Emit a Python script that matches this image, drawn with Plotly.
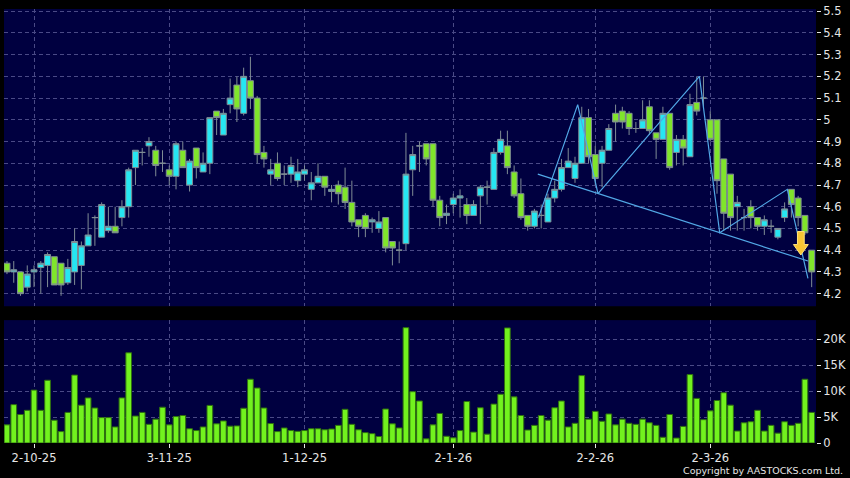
import pandas as pd
import plotly.graph_objects as go

# trading days shown on the chart (HK calendar as drawn)
HOLIDAYS = ["2025-10-01", "2025-10-07", "2025-10-29", "2025-12-25",
            "2026-01-01", "2026-02-17", "2026-02-18", "2026-02-19"]
DATES = [d for d in pd.bdate_range("2025-09-25", "2026-03-23")
         if d.strftime("%Y-%m-%d") not in HOLIDAYS]
TICK_DATES = ["2025-10-02", "2025-11-03", "2025-12-01",
              "2026-01-02", "2026-02-02", "2026-03-02"]

OPEN = [4.34, 4.30, 4.30, 4.23, 4.30, 4.32, 4.33, 4.37, 4.34, 4.25,
        4.30, 4.33, 4.42, 4.55, 4.46, 4.49, 4.51, 4.55, 4.60, 4.78,
        4.85, 4.88, 4.86, 4.80, 4.77, 4.74, 4.86, 4.70, 4.87, 4.76,
        4.80, 5.04, 4.93, 5.07, 5.16, 5.03, 5.18, 5.10, 4.85, 4.75,
        4.80, 4.75, 4.75, 4.72, 4.75, 4.68, 4.71, 4.74, 4.67, 4.70,
        4.69, 4.62, 4.54, 4.56, 4.53, 4.50, 4.55, 4.44, 4.40, 4.43,
        4.77, 4.88, 4.89, 4.89, 4.63, 4.56, 4.61, 4.64, 4.61, 4.56,
        4.65, 4.69, 4.68, 4.85, 4.88, 4.76, 4.66, 4.56, 4.51, 4.56,
        4.53, 4.64, 4.68, 4.78, 4.73, 4.80, 5.01, 4.84, 4.80, 4.86,
        5.03, 5.04, 5.03, 4.96, 4.96, 5.06, 4.94, 4.91, 5.03, 4.85,
        4.91, 4.83, 5.08, 5.10, 5.00, 5.00, 4.82, 4.75, 4.60, 4.55,
        4.60, 4.55, 4.51, 4.51, 4.46, 4.55, 4.68, 4.64, 4.56, 4.40]
HIGH = [4.35, 4.35, 4.30, 4.33, 4.33, 4.35, 4.39, 4.37, 4.34, 4.36,
        4.50, 4.44, 4.57, 4.56, 4.62, 4.60, 4.60, 4.63, 4.78, 4.86,
        4.87, 4.92, 4.88, 4.86, 4.79, 4.90, 4.90, 4.82, 4.87, 4.85,
        5.01, 5.04, 5.05, 5.19, 5.20, 5.24, 5.29, 5.11, 4.88, 4.82,
        4.85, 4.79, 4.83, 4.82, 4.79, 4.76, 4.80, 4.74, 4.70, 4.72,
        4.78, 4.72, 4.54, 4.57, 4.55, 4.58, 4.55, 4.44, 4.44, 4.94,
        4.88, 4.90, 4.89, 4.89, 4.65, 4.61, 4.66, 4.68, 4.64, 4.63,
        4.70, 4.72, 4.87, 4.95, 4.95, 4.79, 4.73, 4.56, 4.59, 4.61,
        4.66, 4.72, 4.82, 4.87, 4.83, 5.06, 5.05, 4.88, 4.88, 4.98,
        5.07, 5.06, 5.04, 4.99, 5.09, 5.09, 4.94, 5.06, 5.03, 4.93,
        4.93, 5.12, 5.20, 5.20, 5.04, 5.00, 4.82, 4.75, 4.65, 4.59,
        4.63, 4.55, 4.56, 4.54, 4.50, 4.62, 4.68, 4.65, 4.56, 4.40]
LOW = [4.29, 4.25, 4.19, 4.21, 4.23, 4.20, 4.23, 4.24, 4.19, 4.24,
       4.24, 4.22, 4.42, 4.42, 4.46, 4.48, 4.48, 4.51, 4.55, 4.70,
       4.79, 4.83, 4.74, 4.76, 4.70, 4.68, 4.78, 4.67, 4.73, 4.76,
       4.75, 4.93, 4.93, 5.03, 4.99, 5.02, 5.05, 4.80, 4.78, 4.70,
       4.72, 4.70, 4.71, 4.69, 4.72, 4.63, 4.71, 4.65, 4.62, 4.61,
       4.59, 4.51, 4.46, 4.46, 4.48, 4.48, 4.39, 4.33, 4.34, 4.40,
       4.65, 4.76, 4.79, 4.60, 4.51, 4.52, 4.57, 4.55, 4.52, 4.56,
       4.52, 4.61, 4.68, 4.84, 4.75, 4.64, 4.54, 4.49, 4.50, 4.50,
       4.53, 4.62, 4.67, 4.78, 4.71, 4.80, 4.80, 4.70, 4.69, 4.86,
       4.90, 4.96, 4.93, 4.94, 4.96, 4.93, 4.82, 4.91, 4.77, 4.79,
       4.79, 4.83, 5.02, 5.05, 4.90, 4.66, 4.49, 4.49, 4.49, 4.49,
       4.50, 4.49, 4.47, 4.48, 4.45, 4.53, 4.55, 4.51, 4.47, 4.23]
CLOSE = [4.30, 4.31, 4.20, 4.29, 4.31, 4.34, 4.38, 4.24, 4.24, 4.32,
         4.44, 4.42, 4.47, 4.55, 4.61, 4.51, 4.48, 4.60, 4.77, 4.86,
         4.85, 4.90, 4.79, 4.80, 4.74, 4.89, 4.78, 4.81, 4.78, 4.80,
         5.01, 5.01, 5.03, 5.10, 5.05, 5.20, 5.10, 4.84, 4.82, 4.77,
         4.73, 4.75, 4.79, 4.76, 4.77, 4.71, 4.74, 4.69, 4.68, 4.66,
         4.62, 4.53, 4.51, 4.50, 4.54, 4.53, 4.41, 4.41, 4.40, 4.75,
         4.84, 4.88, 4.82, 4.63, 4.55, 4.57, 4.64, 4.65, 4.56, 4.61,
         4.69, 4.69, 4.85, 4.91, 4.78, 4.65, 4.55, 4.51, 4.58, 4.56,
         4.64, 4.68, 4.78, 4.81, 4.80, 5.01, 4.83, 4.73, 4.86, 4.96,
         4.99, 4.99, 4.96, 4.96, 5.00, 4.95, 4.91, 5.03, 4.78, 4.91,
         4.87, 5.07, 5.04, 5.10, 4.91, 4.72, 4.57, 4.55, 4.62, 4.55,
         4.55, 4.51, 4.54, 4.51, 4.50, 4.59, 4.61, 4.55, 4.48, 4.30]
VOLUME = [3500, 7400, 5500, 6300, 10200, 6300, 12100, 4400, 2200, 5900,
          13100, 7300, 8700, 6750, 4900, 4900, 3100, 8700, 17400, 5200,
          5900, 3600, 4600, 6900, 3500, 5100, 5300, 2750, 2400, 3100,
          7250, 3700, 4250, 3250, 3300, 6700, 12300, 10600, 6750, 3750,
          2200, 2900, 2400, 2250, 2400, 2750, 2750, 2550, 2700, 3400,
          6500, 3600, 2550, 2000, 1800, 1250, 6550, 3700, 2900, 22250,
          9900, 8100, 800, 3500, 5700, 1300, 1000, 2400, 8000, 2100,
          6800, 1700, 7500, 9400, 22200, 8900, 5300, 2500, 3400, 5300,
          4400, 6800, 8100, 3100, 3800, 13000, 4600, 6100, 4200, 5600,
          3500, 4600, 3800, 3600, 4600, 3900, 3400, 1100, 5500, 950,
          3200, 13200, 8600, 4500, 6200, 8200, 9700, 7300, 2300, 3900,
          4100, 6300, 2300, 3400, 1900, 4100, 3400, 3800, 12300, 5900]

# pattern drawing (bar position, price)
ZIGZAG_POS = [78.6, 84.4, 87.4, 102.4, 105.4, 115.4, 118.45]
ZIGZAG_PX = [4.55, 5.07, 4.66, 5.20, 4.48, 4.68, 4.27]
TREND_POS = [78.5, 118.45]
TREND_PX = [4.75, 4.35]
SIGNAL_POS, SIGNAL_PX = 117.4, 4.378  # tip of the yellow arrow

VOL_TICKS = [0, 5000, 10000, 15000, 20000]
VOL_LABELS = ["0", "5K", "10K", "15K", "20K"]

FONT = "DejaVu Sans"
NAVY = "#000040"
GRID = "#4a4a86"
UP = "#26e6f2"
DOWN = "#80e52b"
EDGE = "#7f8c94"

pos = list(range(len(DATES)))
date_keys = [d.strftime("%Y-%m-%d") for d in DATES]
tick_pos = [date_keys.index(t) for t in TICK_DATES]
tick_text = [f"{d.day}-{d.month}-{d.strftime('%y')}" for d in pd.to_datetime(TICK_DATES)]

fig = go.Figure()

fig.add_trace(
    go.Candlestick(
        x=pos, open=OPEN, high=HIGH, low=LOW, close=CLOSE,
        increasing=dict(fillcolor=UP, line=dict(color=EDGE, width=1)),
        decreasing=dict(fillcolor=DOWN, line=dict(color=EDGE, width=1)),
        xaxis="x", yaxis="y", showlegend=False,
    )
)

line_style = dict(color="#52a8e6", width=1.2)
fig.add_trace(go.Scatter(x=ZIGZAG_POS, y=ZIGZAG_PX, mode="lines", line=line_style,
                         xaxis="x", yaxis="y", showlegend=False))
fig.add_trace(go.Scatter(x=TREND_POS, y=TREND_PX, mode="lines", line=line_style,
                         xaxis="x", yaxis="y", showlegend=False))

fig.add_trace(
    go.Bar(
        x=pos, y=VOLUME,
        marker=dict(color="#72f21e", line=dict(color="#2f7010", width=1)),
        xaxis="x2", yaxis="y2", showlegend=False,
    )
)

# yellow down arrow (signal)
hw, sw, head, shaft = 1.1, 0.5, 0.048, 0.06
x0, y0 = SIGNAL_POS, SIGNAL_PX
arrow = (f"M {x0},{y0} L {x0 - hw},{y0 + head} L {x0 - sw},{y0 + head} "
         f"L {x0 - sw},{y0 + head + shaft} L {x0 + sw},{y0 + head + shaft} "
         f"L {x0 + sw},{y0 + head} L {x0 + hw},{y0 + head} Z")
fig.add_shape(type="path", path=arrow, xref="x", yref="y",
              fillcolor="#f8c634", line=dict(color="#ffe07a", width=1))

tick_font = dict(family=FONT, size=11.5, color="#e6e6e6")
x_range = [-0.44, 119.64]
axis_common = dict(showgrid=True, gridcolor=GRID, griddash="4px,3px", gridwidth=1,
                   zeroline=False, showline=False)

fig.update_layout(
    width=850, height=478,
    margin=dict(l=4, r=32, t=5, b=35),
    paper_bgcolor="black", plot_bgcolor=NAVY,
    font=dict(family=FONT, color="#e6e6e6"),
    bargap=0.16, boxgap=0.12, boxgroupgap=0,
    hovermode=False,
    xaxis=dict(domain=[0, 1], anchor="y", range=x_range, tickvals=tick_pos,
               showticklabels=False, ticks="", rangeslider=dict(visible=False),
               **axis_common),
    xaxis2=dict(domain=[0, 1], anchor="y2", range=x_range, matches="x",
                tickvals=tick_pos, ticktext=tick_text, ticks="outside", ticklen=4,
                tickcolor="#e6e6e6", tickfont=tick_font, **axis_common),
    yaxis=dict(domain=[0.3151, 1], anchor="x", side="right", range=[4.142, 5.51],
               dtick=0.1, tick0=0, ticks="outside", ticklen=4, tickcolor="#e6e6e6",
               tickfont=tick_font, **axis_common),
    yaxis2=dict(domain=[0, 0.2831], anchor="x2", side="right", range=[0, 23700],
                tickvals=VOL_TICKS, ticktext=VOL_LABELS, ticks="outside", ticklen=4,
                tickcolor="#e6e6e6", tickfont=tick_font, **axis_common),
    annotations=[
        dict(text="Copyright by AASTOCKS.com Ltd.", xref="paper", yref="paper",
             x=1.0354, y=-0.064, xanchor="right", yanchor="middle", showarrow=False,
             font=dict(family=FONT, size=9.5, color="#e6e6e6")),
    ],
)

# the page body has a default 8px margin; drop it so the chart sits at the corner
fig.write_html("out.html", config={"displayModeBar": False},
               post_script="document.body.style.margin='0';")
